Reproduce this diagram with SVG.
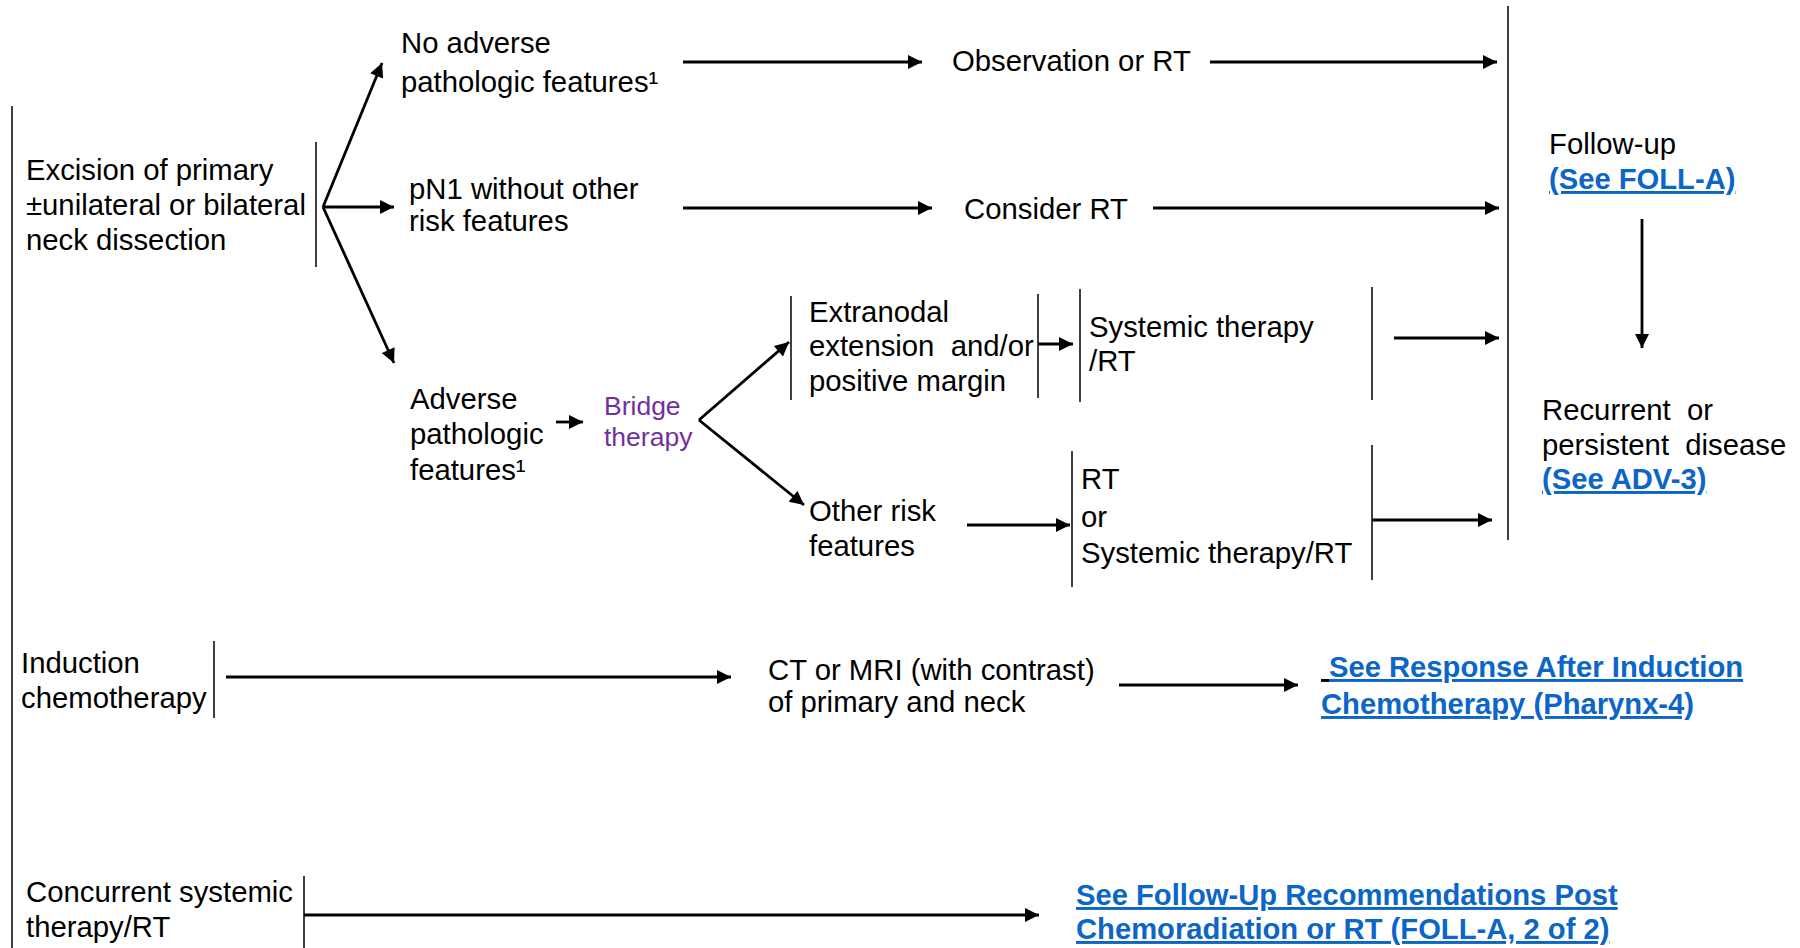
<svg xmlns="http://www.w3.org/2000/svg" width="1800" height="948" viewBox="0 0 1800 948">
  <style>
    .t { font-family: "Liberation Sans", Arial, Helvetica, sans-serif; font-size: 29.3px; fill: #000; }
    .p { font-family: "Liberation Sans", Arial, Helvetica, sans-serif; font-size: 26.5px; fill: #7030A0; }
    .lk { font-family: "Liberation Sans", Arial, Helvetica, sans-serif; font-size: 29.2px; font-weight: bold; fill: #0B66C8; text-decoration: underline; }
    .bar { stroke: #000; stroke-width: 1.5; fill: none; }
    .c { stroke: #000; stroke-width: 2.8; fill: none; marker-end: url(#ah); }
  </style>
  <defs>
    <marker id="ah" viewBox="0 0 10 10" refX="10" refY="5" markerWidth="16" markerHeight="14" markerUnits="userSpaceOnUse" orient="auto">
      <path d="M0,0 L10,5 L0,10 z" fill="#000"/>
    </marker>
  </defs>
  <rect width="1800" height="948" fill="#fff"/>

  <!-- separator bars -->
  <g id="bars">
    <line class="bar" x1="12" y1="106" x2="12" y2="948"/>
    <line class="bar" x1="316" y1="142" x2="316" y2="267"/>
    <line class="bar" x1="1508" y1="6" x2="1508" y2="540"/>
    <line class="bar" x1="791" y1="296" x2="791" y2="400"/>
    <line class="bar" x1="1038" y1="294" x2="1038" y2="398"/>
    <line class="bar" x1="1080" y1="289" x2="1080" y2="402"/>
    <line class="bar" x1="1372" y1="287" x2="1372" y2="400"/>
    <line class="bar" x1="1072" y1="451" x2="1072" y2="587"/>
    <line class="bar" x1="1372" y1="445" x2="1372" y2="580"/>
    <line class="bar" x1="214" y1="641" x2="214" y2="718"/>
    <line class="bar" x1="304" y1="876" x2="304" y2="948"/>
  </g>

  <g id="excision">
    <text class="t" x="26" y="180">Excision of primary</text>
    <text class="t" x="26" y="215">±unilateral or bilateral</text>
    <text class="t" x="26" y="250">neck dissection</text>
  </g>
  <g id="no-adverse">
    <text class="t" x="401" y="53">No adverse</text>
    <text class="t" x="401" y="92">pathologic features¹</text>
  </g>
  <g id="pn1">
    <text class="t" x="409" y="199">pN1 without other</text>
    <text class="t" x="409" y="231">risk features</text>
  </g>
  <g id="observation">
    <text class="t" x="952" y="71">Observation or RT</text>
  </g>
  <g id="consider-rt">
    <text class="t" x="964" y="219">Consider RT</text>
  </g>
  <g id="adverse">
    <text class="t" x="410" y="409">Adverse</text>
    <text class="t" x="410" y="444">pathologic</text>
    <text class="t" x="410" y="480">features¹</text>
  </g>
  <g id="bridge">
    <text class="p" x="604" y="415">Bridge</text>
    <text class="p" x="604" y="446">therapy</text>
  </g>
  <g id="extranodal">
    <text class="t" x="809" y="322">Extranodal</text>
    <text class="t" x="809" y="356" xml:space="preserve">extension  and/or</text>
    <text class="t" x="809" y="391">positive margin</text>
  </g>
  <g id="systemic-rt">
    <text class="t" x="1089" y="337">Systemic therapy</text>
    <text class="t" x="1089" y="371">/RT</text>
  </g>
  <g id="other-risk">
    <text class="t" x="809" y="521">Other risk</text>
    <text class="t" x="809" y="556">features</text>
  </g>
  <g id="rt-or-systemic">
    <text class="t" x="1081" y="489">RT</text>
    <text class="t" x="1081" y="527">or</text>
    <text class="t" x="1081" y="563">Systemic therapy/RT</text>
  </g>
  <g id="follow-up">
    <text class="t" x="1549" y="154">Follow-up</text>
    <text class="lk" x="1549" y="189">(See FOLL-A)</text>
  </g>
  <g id="recurrent">
    <text class="t" x="1542" y="420" xml:space="preserve">Recurrent  or</text>
    <text class="t" x="1542" y="455" xml:space="preserve">persistent  disease</text>
    <text class="lk" x="1542" y="489">(See ADV-3)</text>
  </g>
  <g id="induction">
    <text class="t" x="21" y="673">Induction</text>
    <text class="t" x="21" y="708">chemotherapy</text>
  </g>
  <g id="imaging">
    <text class="t" x="768" y="680">CT or MRI (with contrast)</text>
    <text class="t" x="768" y="712">of primary and neck</text>
  </g>
  <g id="response-link">
    <text class="lk" x="1321" y="677" xml:space="preserve" style="fill:#000"> </text>
    <text class="lk" x="1329" y="677">See Response After Induction</text>
    <text class="lk" x="1321" y="714">Chemotherapy (Pharynx-4)</text>
  </g>
  <g id="concurrent">
    <text class="t" x="26" y="902">Concurrent systemic</text>
    <text class="t" x="26" y="937">therapy/RT</text>
  </g>
  <g id="followup-link">
    <text class="lk" x="1076" y="905">See Follow-Up Recommendations Post</text>
    <text class="lk" x="1076" y="939">Chemoradiation or RT (FOLL-A, 2 of 2)</text>
  </g>

  <g id="connectors">
    <line class="c" x1="323" y1="207" x2="382" y2="63"/>
    <line class="c" x1="323" y1="207" x2="394" y2="207"/>
    <line class="c" x1="323" y1="207" x2="394" y2="363"/>
    <line class="c" x1="683" y1="62" x2="922" y2="62"/>
    <line class="c" x1="1210" y1="62" x2="1497" y2="62"/>
    <line class="c" x1="683" y1="208" x2="932" y2="208"/>
    <line class="c" x1="1153" y1="208" x2="1499" y2="208"/>
    <line class="c" x1="1642" y1="219" x2="1642" y2="348"/>
    <line class="c" x1="556" y1="422" x2="583" y2="422"/>
    <line class="c" x1="699" y1="420" x2="789" y2="342"/>
    <line class="c" x1="699" y1="420" x2="804" y2="505"/>
    <line class="c" x1="1038" y1="344" x2="1073" y2="344"/>
    <line class="c" x1="1394" y1="338" x2="1499" y2="338"/>
    <line class="c" x1="967" y1="525" x2="1070" y2="525"/>
    <line class="c" x1="1372" y1="520" x2="1492" y2="520"/>
    <line class="c" x1="226" y1="677" x2="731" y2="677"/>
    <line class="c" x1="1119" y1="685" x2="1298" y2="685"/>
    <line class="c" x1="304" y1="915" x2="1039" y2="915"/>
  </g>
</svg>
